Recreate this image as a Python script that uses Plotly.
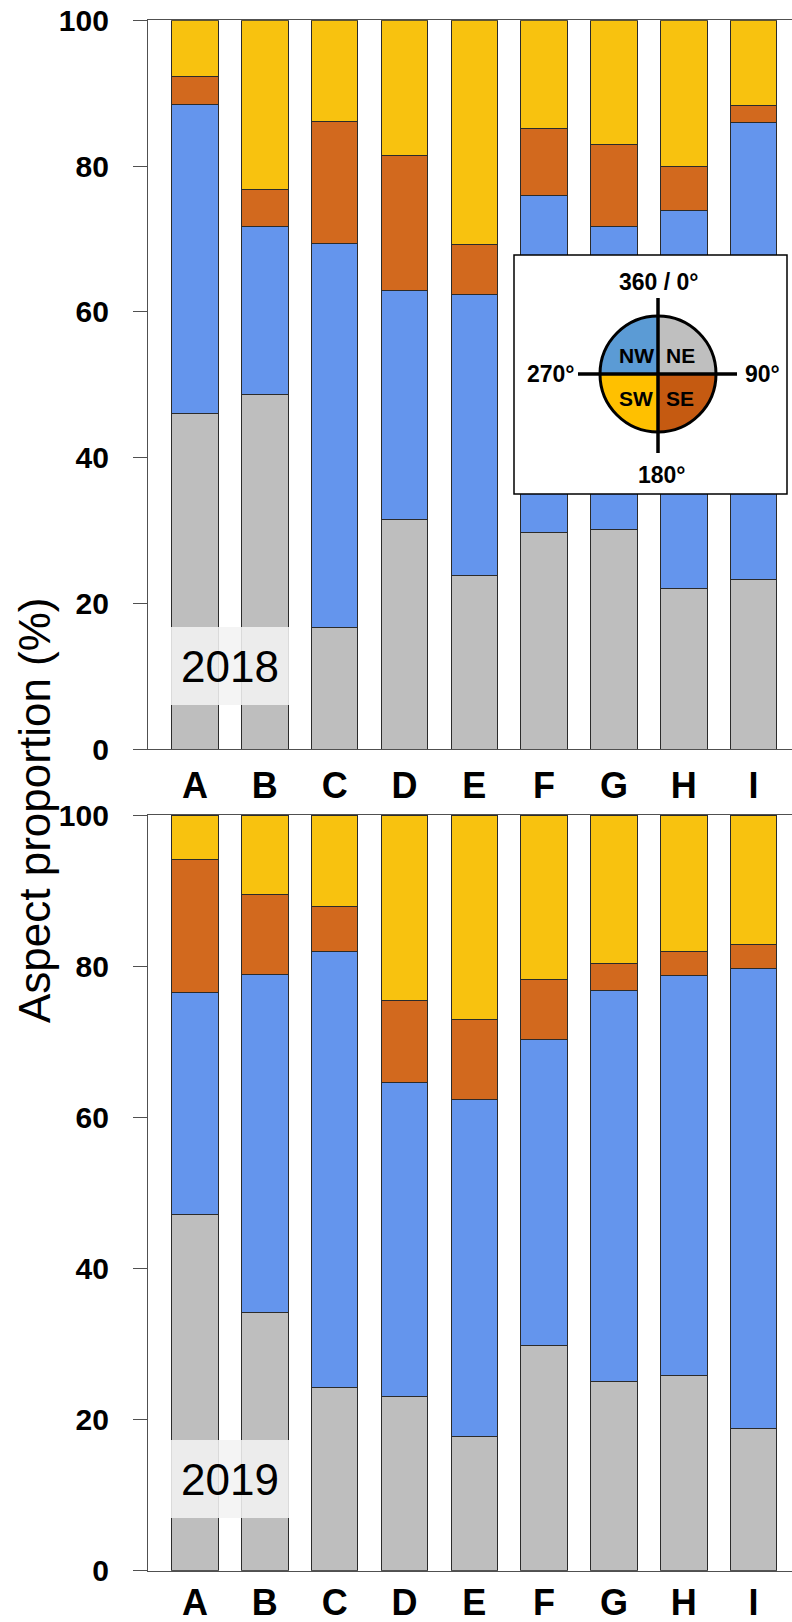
import numpy as np
import plotly.graph_objects as go

# Study sites
sites = ["A", "B", "C", "D", "E", "F", "G", "H", "I"]

# Aspect proportions (%) per site, 2018
ne_2018 = [46.1, 48.7, 16.7, 31.5, 23.9, 29.7, 30.2, 22.0, 23.3]
nw_2018 = [42.3, 23.0, 52.7, 31.4, 38.5, 46.2, 41.5, 51.9, 62.7]
se_2018 = [3.9, 5.1, 16.7, 18.6, 6.8, 9.2, 11.3, 6.1, 2.3]
sw_2018 = [7.7, 23.2, 13.9, 18.5, 30.8, 14.9, 17.0, 20.0, 11.7]

# Aspect proportions (%) per site, 2019
ne_2019 = [47.1, 34.2, 24.3, 23.1, 17.7, 29.8, 25.0, 25.8, 18.8]
nw_2019 = [29.4, 44.7, 57.6, 41.5, 44.6, 40.5, 51.8, 53.0, 60.9]
se_2019 = [17.6, 10.6, 6.0, 10.8, 10.6, 7.9, 3.6, 3.1, 3.2]
sw_2019 = [5.9, 10.5, 12.1, 24.6, 27.1, 21.8, 19.6, 18.1, 17.1]

years = ["2018", "2019"]
y_ticks = [0, 20, 40, 60, 80, 100]

# Bar fill colours (bottom to top)
bar_colors = {"NE": "#BEBEBE", "NW": "#6495ED", "SE": "#D2691E", "SW": "#F8C20F"}
# Compass quadrant colours
quad_colors = {"NE": "#BFBFBF", "SE": "#C55A11", "SW": "#FFC000", "NW": "#5B9BD5"}

W, H = 792, 1622
FONT = "Liberation Sans, Arial, Helvetica, sans-serif"


def px(x):
    return x / W


def py(y):
    return 1 - y / H


fig = go.Figure()

panels = [
    ("x", "y", {"NE": ne_2018, "NW": nw_2018, "SE": se_2018, "SW": sw_2018}),
    ("x2", "y2", {"NE": ne_2019, "NW": nw_2019, "SE": se_2019, "SW": sw_2019}),
]
for xa, ya, data in panels:
    for key in ["NE", "NW", "SE", "SW"]:
        fig.add_trace(go.Bar(
            x=sites, y=data[key], name=key, xaxis=xa, yaxis=ya,
            marker=dict(color=bar_colors[key], line=dict(color="#2b2b2b", width=1)),
            showlegend=False, hoverinfo="skip",
        ))

x_dom = [px(148), 1.0]
axis_common = dict(showline=True, linecolor="#505050", linewidth=1.3, automargin=False)
xcommon = dict(
    **axis_common, domain=x_dom, range=[-0.673, 8.55], mirror=True,
    ticks="", showgrid=False, zeroline=False,
    tickfont=dict(family=FONT, size=36, color="black", weight="bold"),
)
ycommon = dict(
    **axis_common, range=[0, 100], tickvals=y_ticks, ticks="outside", ticklen=14,
    tickwidth=1.3, tickcolor="#505050", showgrid=False, zeroline=False,
    ticklabelstandoff=18,
    tickfont=dict(family=FONT, size=30, color="black", weight="bold"),
)

fig.update_layout(
    width=W, height=H, margin=dict(l=0, r=0, t=0, b=0, autoexpand=False),
    paper_bgcolor="white", plot_bgcolor="white",
    barmode="stack", bargap=0.334,
    xaxis=dict(**xcommon, anchor="y", ticklabelstandoff=4),
    yaxis=dict(**ycommon, domain=[py(749.3), py(20.3)], anchor="x"),
    xaxis2=dict(**xcommon, anchor="y2", ticklabelstandoff=0),
    yaxis2=dict(**ycommon, domain=[py(1570.7), py(815)], anchor="x2"),
)

shapes = []
annotations = []

# Year labels over sites A-B
for label, (top, bot) in zip(years, [(627, 705), (1440, 1518)]):
    shapes.append(dict(type="rect", xref="paper", yref="paper",
                       x0=px(171), x1=px(289), y0=py(bot), y1=py(top),
                       fillcolor="rgba(242,242,242,0.88)", line=dict(width=0), layer="above"))
    annotations.append(dict(text=label, xref="paper", yref="paper",
                            x=px(230), y=py((top + bot) / 2), showarrow=False,
                            xanchor="center", yanchor="middle",
                            font=dict(family=FONT, size=44, color="black")))

# Compass inset
shapes.append(dict(type="rect", xref="paper", yref="paper",
                   x0=px(514), x1=px(787), y0=py(494), y1=py(255),
                   fillcolor="white", line=dict(color="black", width=1.5), layer="above"))

cx, cy, r = 658, 374, 58
quad_angles = {"NE": (90, 0), "SE": (0, -90), "SW": (-90, -180), "NW": (180, 90)}
for key, (a0, a1) in quad_angles.items():
    th = np.radians(np.linspace(a0, a1, 40))
    pts = [(cx, cy)] + [(cx + r * np.cos(t), cy - r * np.sin(t)) for t in th]
    path = "M " + " L ".join(f"{px(a):.5f},{py(b):.5f}" for a, b in pts) + " Z"
    shapes.append(dict(type="path", xref="paper", yref="paper", path=path,
                       fillcolor=quad_colors[key], line=dict(width=0), layer="above"))

shapes.append(dict(type="circle", xref="paper", yref="paper",
                   x0=px(cx - r), x1=px(cx + r), y0=py(cy + r), y1=py(cy - r),
                   line=dict(color="black", width=3), layer="above"))
shapes.append(dict(type="line", xref="paper", yref="paper",
                   x0=px(cx), x1=px(cx), y0=py(453), y1=py(298),
                   line=dict(color="black", width=3.5), layer="above"))
shapes.append(dict(type="line", xref="paper", yref="paper",
                   x0=px(578), x1=px(737), y0=py(cy), y1=py(cy),
                   line=dict(color="black", width=3.5), layer="above"))

compass_text = [
    ("360 / 0°", 659, 282, 23),
    ("270°", 551, 374, 23),
    ("90°", 762, 374, 23),
    ("180°", 662, 475, 23),
    ("NW", 636, 356, 21),
    ("NE", 680, 356, 21),
    ("SW", 636, 398, 21),
    ("SE", 680, 398, 21),
]
for text, x, y, size in compass_text:
    annotations.append(dict(text=text, xref="paper", yref="paper", x=px(x), y=py(y),
                            showarrow=False, xanchor="center", yanchor="middle",
                            font=dict(family=FONT, size=size, color="black", weight="bold")))

# Shared y-axis title
annotations.append(dict(text="Aspect proportion (%)", xref="paper", yref="paper",
                        x=px(34), y=py(810), textangle=-90, showarrow=False,
                        xanchor="center", yanchor="middle",
                        font=dict(family=FONT, size=44, color="black")))

fig.update_layout(shapes=shapes, annotations=annotations)
fig.write_html("out.html")
